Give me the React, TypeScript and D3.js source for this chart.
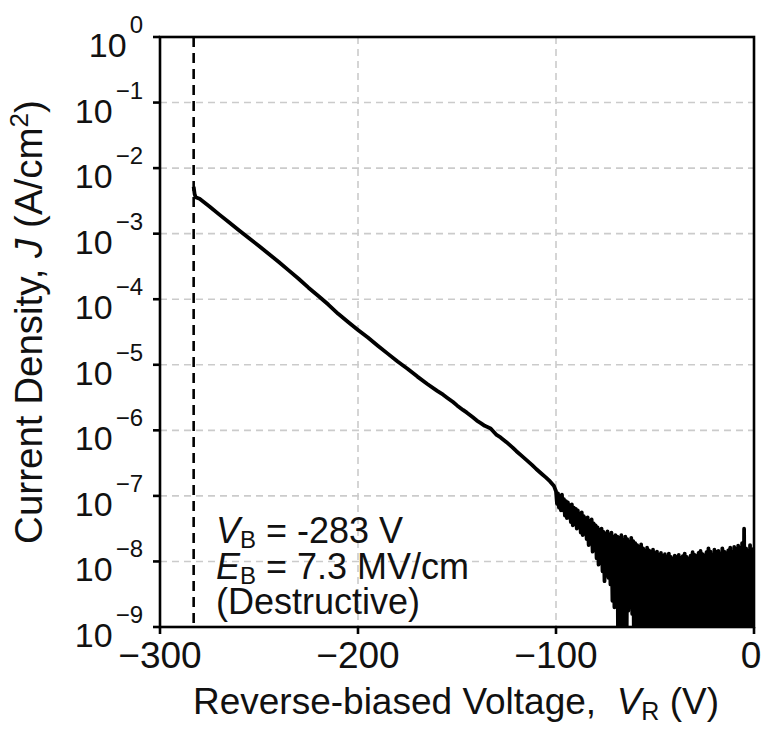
import React from "react";
import * as d3 from "d3";

// ---- data ----
const xTicks = [-300, -200, -100, 0];
const yExponents = [0, -1, -2, -3, -4, -5, -6, -7, -8, -9];

// main (clean) part of the J-V sweep
const mainV = [
  -283, -282.5, -282, -280, -275, -270, -265, -260, -255, -250, -245, -240, -235, -230, -225, -220, -215, -210,
  -205, -200, -195, -190, -185, -180, -175, -170, -165, -160, -157, -155, -152, -150, -147, -145, -142, -140,
  -138, -136, -133, -130, -128, -125, -122, -120, -117, -115, -112, -110, -107, -105, -103, -101,
];
const mainJ = [
  5.2e-3, 4.0e-3, 3.6e-3, 3.4e-3, 2.6e-3, 1.95e-3, 1.48e-3, 1.12e-3, 8.5e-4, 6.5e-4, 4.9e-4, 3.7e-4, 2.75e-4,
  2.05e-4, 1.5e-4, 1.12e-4, 8.3e-5, 6.0e-5, 4.5e-5, 3.4e-5, 2.6e-5, 1.95e-5, 1.48e-5, 1.12e-5, 8.7e-6, 6.6e-6,
  5.1e-6, 4.0e-6, 3.5e-6, 3.15e-6, 2.7e-6, 2.4e-6, 2.05e-6, 1.86e-6, 1.58e-6, 1.41e-6, 1.29e-6, 1.17e-6,
  1.07e-6, 8.5e-7, 7.8e-7, 6.6e-7, 5.5e-7, 4.8e-7, 4.0e-7, 3.55e-7, 2.95e-7, 2.57e-7, 2.14e-7, 1.9e-7, 1.66e-7,
  1.41e-7,
];

// noisy floor region, -100 V .. 0 V in 1 V steps: upper and lower excursions (log10 J)
const noiseV = d3.range(-100, 1, 1);
const noiseTopExp = [
  -6.93, -6.96, -7.0, -6.98, -7.05, -7.08, -7.1, -7.14, -7.13, -7.18, -7.2,
  -7.22, -7.27, -7.25, -7.31, -7.34, -7.33, -7.38, -7.36, -7.42, -7.45,
  -7.48, -7.52, -7.5, -7.55, -7.58, -7.54, -7.6, -7.56, -7.63, -7.6,
  -7.62, -7.65, -7.6, -7.68, -7.62, -7.66, -7.7, -7.64, -7.69, -7.72,
  -7.75, -7.78, -7.74, -7.8, -7.84, -7.79, -7.83, -7.86, -7.82, -7.88,
  -7.85, -7.9, -7.87, -7.92, -7.89, -7.94, -7.88, -7.93, -7.96, -7.91,
  -7.94, -7.9, -7.95, -7.92, -7.88, -7.93, -7.97, -7.91, -7.86, -7.9,
  -7.92, -7.87, -7.84, -7.89, -7.91, -7.86, -7.8, -7.85, -7.9, -7.82,
  -7.86, -7.84, -7.89, -7.8, -7.85, -7.88, -7.83, -7.79, -7.86, -7.78,
  -7.82, -7.76, -7.8, -7.72, -7.5, -7.8, -7.85, -7.75, -7.83, -7.8,
];
const noiseBottomExp = [
  -7.12, -7.18, -7.22, -7.22, -7.3, -7.34, -7.33, -7.4, -7.45, -7.43, -7.5,
  -7.48, -7.56, -7.6, -7.58, -7.66, -7.75, -7.7, -7.85, -7.8, -7.95,
  -8.05, -8.0, -8.15, -8.3, -8.2, -8.25, -8.35, -8.6, -8.7, -8.65,
  -10, -10, -10, -10, -10, -8.75, -8.7, -8.8, -10, -10,
  -10, -10, -10, -10, -10, -10, -10, -10, -10, -10,
  -10, -10, -10, -10, -10, -10, -10, -10, -10, -10,
  -10, -10, -10, -10, -10, -10, -10, -10, -10, -10,
  -10, -10, -10, -10, -10, -10, -10, -10, -10, -10,
  -10, -10, -10, -10, -10, -10, -10, -10, -10, -10,
  -10, -10, -10, -10, -10, -10, -10, -10, -10, -10,
];

const breakdownV = -283;
const annotation = { vb: "-283 V", eb: "7.3 MV/cm", note: "(Destructive)" };

// ---- layout ----
const W = 762;
const H = 733;
const M = { left: 160, right: 754, top: 37, bottom: 627 };
const FONT = "'Liberation Sans', Arial, Helvetica, sans-serif";

export default function App() {
  const x = d3.scaleLinear().domain([-300, 0]).range([M.left, M.right]);
  const y = d3.scaleLog().domain([1e-9, 1]).range([M.bottom, M.top]);

  const pts: [number, number][] = mainV.map((v, i) => [v, mainJ[i]]);
  noiseV.forEach((v, i) => {
    pts.push([v, Math.pow(10, noiseTopExp[i])]);
    pts.push([Math.min(v + 0.5, 0), Math.pow(10, noiseBottomExp[i])]);
  });
  const line = d3
    .line<[number, number]>()
    .x((d) => x(d[0]))
    .y((d) => y(d[1]));

  const gridY = yExponents.filter((e) => e !== 0 && e !== -9);
  const gridX = xTicks.filter((t) => t !== -300 && t !== 0);

  return (
    <svg width={W} height={H} style={{ position: "absolute", left: 0, top: 0, background: "#fff" }} fontFamily={FONT}>
      <defs>
        <clipPath id="plot">
          <rect x={M.left} y={M.top} width={M.right - M.left} height={M.bottom - M.top} />
        </clipPath>
      </defs>
      <rect x={0} y={0} width={W} height={H} fill="#fff" />
      {/* grid */}
      {gridY.map((e) => (
        <line key={"gy" + e} x1={M.left} x2={M.right} y1={y(Math.pow(10, e))} y2={y(Math.pow(10, e))}
          stroke="#cbcbcb" strokeWidth={1.6} strokeDasharray="7,5" />
      ))}
      {gridX.map((t) => (
        <line key={"gx" + t} x1={x(t)} x2={x(t)} y1={M.top} y2={M.bottom}
          stroke="#cbcbcb" strokeWidth={1.6} strokeDasharray="7,5" />
      ))}
      {/* breakdown line */}
      <line x1={x(breakdownV)} x2={x(breakdownV)} y1={M.top} y2={M.bottom} stroke="#000" strokeWidth={2.6}
        strokeDasharray="10,6" />
      {/* data */}
      <g clipPath="url(#plot)">
        <path d={line(pts) || ""} fill="none" stroke="#000" strokeWidth={3.8} strokeLinejoin="round" />
      </g>
      {/* frame */}
      <rect x={M.left} y={M.top} width={M.right - M.left} height={M.bottom - M.top} fill="none" stroke="#000"
        strokeWidth={2.6} />
      {/* y ticks */}
      {yExponents.map((e) => {
        const yy = y(Math.pow(10, e));
        return (
          <g key={"yt" + e}>
            <line x1={M.left - 7} x2={M.left} y1={yy} y2={yy} stroke="#000" strokeWidth={2.6} />
            <text x={143} y={yy + 20} textAnchor="end" fontSize={34} fill="#111">
              10
              <tspan dx={3} dy={-24} fontSize={24}>{e === 0 ? "0" : "\u2212" + Math.abs(e)}</tspan>
            </text>
          </g>
        );
      })}
      {/* x ticks */}
      {xTicks.map((t) => (
        <g key={"xt" + t}>
          <line x1={x(t)} x2={x(t)} y1={M.bottom} y2={M.bottom + 7} stroke="#000" strokeWidth={2.6} />
          <text x={Math.min(x(t), W - 11)} y={668} textAnchor="middle" fontSize={37} fill="#111">
            {t === 0 ? "0" : "\u2212" + Math.abs(t)}
          </text>
        </g>
      ))}
      {/* axis titles */}
      <text x={456} y={714} textAnchor="middle" fontSize={37} fill="#111">
        Reverse-biased Voltage,{"\u00a0\u00a0"}
        <tspan fontStyle="italic">V</tspan>
        <tspan fontSize={25} dy={6}>R</tspan>
        <tspan dy={-6}>{"\u00a0"}(V)</tspan>
      </text>
      <text transform="translate(42,322) rotate(-90)" textAnchor="middle" fontSize={38.5} fill="#111">
        Current Density,{"\u00a0"}
        <tspan fontStyle="italic">J</tspan>
        {"\u00a0"}(A/cm
        <tspan fontSize={26} dy={-14}>2</tspan>
        <tspan dy={14}>)</tspan>
      </text>
      {/* annotation */}
      <g fontSize={36} fill="#111">
        <text x={216} y={543}>
          <tspan fontStyle="italic">V</tspan>
          <tspan fontSize={24} dy={5}>B</tspan>
          <tspan dy={-5}> = {annotation.vb}</tspan>
        </text>
        <text x={216} y={579}>
          <tspan fontStyle="italic">E</tspan>
          <tspan fontSize={24} dy={5}>B</tspan>
          <tspan dy={-5}> = {annotation.eb}</tspan>
        </text>
        <text x={216} y={614}>{annotation.note}</text>
      </g>
    </svg>
  );
}
